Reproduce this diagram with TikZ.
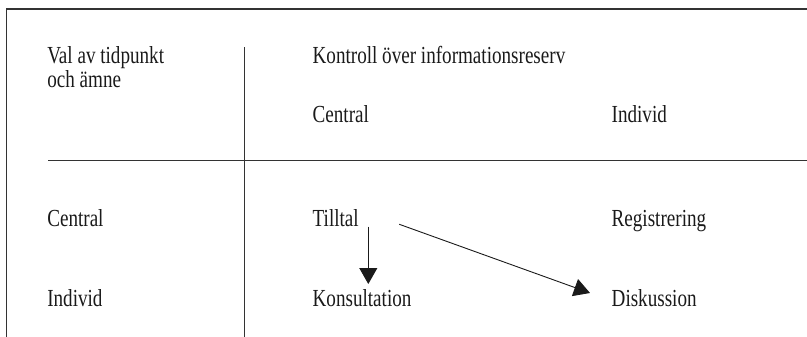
\documentclass[tikz,border=0pt]{standalone}
\usepackage{fontspec}
\setmainfont{Liberation Serif}[FakeStretch=0.78]
\usetikzlibrary{arrows.meta}
\definecolor{rule}{HTML}{333333}
\definecolor{ink}{HTML}{1A1A1A}
\tikzset{
  label/.style={anchor=base west, inner sep=0pt, outer sep=0pt, text=ink,
    font=\fontsize{24.5}{24.5}\selectfont},
  frame/.style={draw=rule, line width=1.4pt},
  grid/.style={draw=rule, line width=1.2pt},
  flow/.style={draw=ink, line width=0.9pt,
    -{Triangle[length=16pt, width=18pt]}}
}
\begin{document}
\begin{tikzpicture}[x=1pt, y=-1pt]
  \useasboundingbox (0,0) rectangle (807,337);

  % outer frame (top and left edges only)
  \coordinate (tl) at (6.7,9);
  \coordinate (tr) at (807,9);
  \coordinate (bl) at (6.7,337);
  \draw[frame] (tr) -- (tl) -- (bl);

  % table rules
  \coordinate (vtop) at (244.3,47.3);
  \coordinate (vbot) at (244.3,337);
  \coordinate (hleft) at (48.3,160.7);
  \coordinate (hright) at (807,160.7);
  \draw[grid] (vtop) -- (vbot);
  \draw[grid] (hleft) -- (hright);

  % header cells
  \node[label] (corner1) at (47.3,64) {Val av tidpunkt};
  \node[label] (corner2) at (47.3,88) {och ämne};
  \node[label] (ctrl) at (312.7,64) {Kontroll över informationsreserv};
  \node[label] (colc) at (312.7,123) {Central};
  \node[label] (coli) at (611.7,123) {Individ};

  % row labels
  \node[label] (rowc) at (47.3,226) {Central};
  \node[label] (rowi) at (47.3,306) {Individ};

  % body cells
  \node[label] (tilltal) at (312.7,226) {Tilltal};
  \node[label] (reg) at (611.7,226) {Registrering};
  \node[label] (kons) at (312.7,306) {Konsultation};
  \node[label] (disk) at (611.7,306) {Diskussion};

  % transitions out of Tilltal
  \coordinate (down0) at (368.3,226.7);
  \coordinate (down1) at (368.3,284);
  \coordinate (diag0) at (399.3,224.3);
  \coordinate (diag1) at (590,293);
  \draw[flow] (down0) -- (down1);
  \draw[flow] (diag0) -- (diag1);
\end{tikzpicture}
\end{document}
